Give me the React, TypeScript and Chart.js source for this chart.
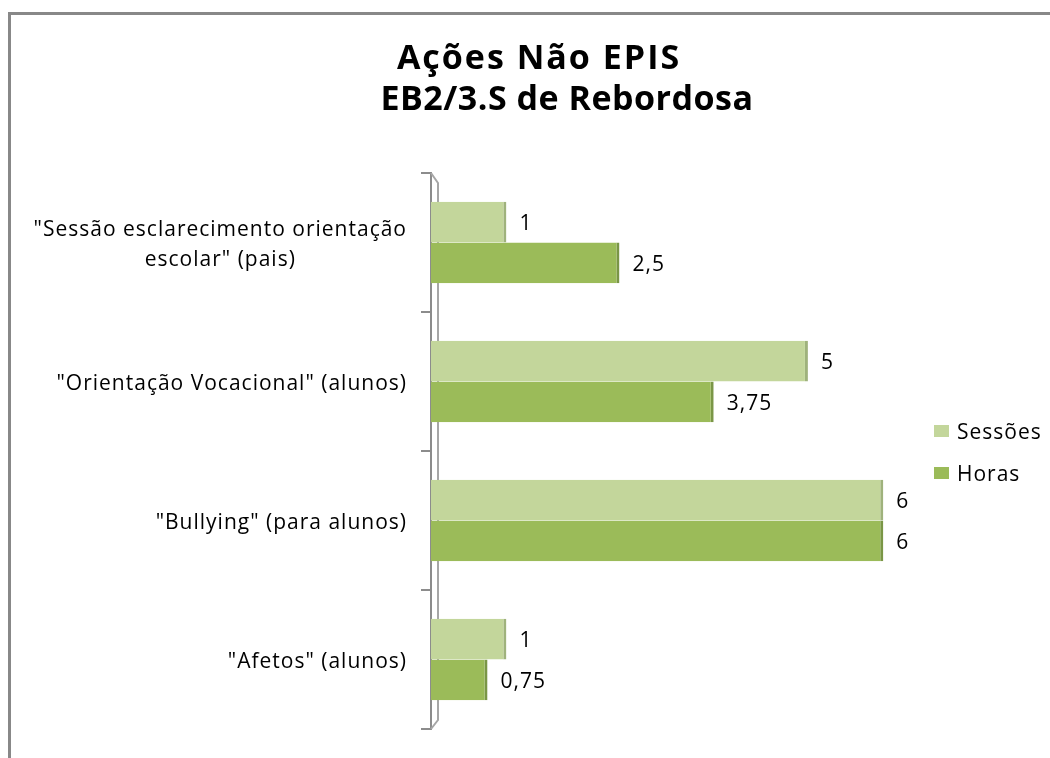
import React, { useEffect, useRef } from "react";
import { Chart, registerables } from "chart.js";

Chart.register(...registerables);

const titleLines = ["Ações Não EPIS", "EB2/3.S de Rebordosa"];
const categories: (string | string[])[] = [
  ['"Sessão esclarecimento orientação', 'escolar" (pais)'],
  '"Orientação Vocacional" (alunos)',
  '"Bullying" (para alunos)',
  '"Afetos" (alunos)',
];
const seriesNames = ["Sessões", "Horas"];
const sessoes = [1, 5, 6, 1];
const horas = [2.5, 3.75, 6, 0.75];

const FONT = "'Open Sans', 'DejaVu Sans', sans-serif";

const titlePlugin = {
  id: "customTitle",
  afterDraw(chart: any) {
    const ctx = chart.ctx;
    ctx.save();
    ctx.fillStyle = "#000";
    ctx.font = `bold 34px ${FONT}`;
    ctx.textAlign = "center";
    ctx.textBaseline = "alphabetic";
    ctx.letterSpacing = "2px";
    ctx.fillText(titleLines[0], 528, 54);
    ctx.letterSpacing = "0.5px";
    ctx.fillText(titleLines[1], 556, 95);
    ctx.restore();
  },
};

const yLabelPlugin = {
  id: "yLabels",
  afterDraw(chart: any) {
    const ctx = chart.ctx;
    const scale = chart.scales.y;
    const right = chart.chartArea.left - 24;
    ctx.save();
    ctx.fillStyle = "#000";
    ctx.font = `21px ${FONT}`;
    ctx.letterSpacing = "1px";
    ctx.textAlign = "center";
    ctx.textBaseline = "alphabetic";
    const lh = 30;
    chart.data.labels.forEach((lab: any, i: number) => {
      const lines: string[] = Array.isArray(lab) ? lab : [lab];
      const maxW = Math.max(...lines.map((l) => ctx.measureText(l).width));
      const cx = right - maxW / 2;
      const cy = scale.getPixelForTick(i) + 1;
      const firstBase = cy - ((lines.length - 1) * lh) / 2 + 7.5;
      lines.forEach((l, k) => ctx.fillText(l, cx, firstBase + k * lh));
    });
    ctx.restore();
  },
};

const axis3dPlugin = {
  id: "axis3d",
  beforeDatasetsDraw(chart: any) {
    const ctx = chart.ctx;
    const a = chart.chartArea;
    ctx.save();
    ctx.strokeStyle = "#A6A6A6";
    ctx.lineWidth = 2;
    ctx.beginPath();
    ctx.moveTo(a.left, a.top);
    ctx.lineTo(a.left + 7, a.top + 10);
    ctx.lineTo(a.left + 7, a.bottom - 9);
    ctx.lineTo(a.left, a.bottom);
    ctx.stroke();
    ctx.restore();
  },
};

const dataLabelPlugin = {
  id: "dataLabels",
  afterDatasetsDraw(chart: any) {
    const ctx = chart.ctx;
    ctx.save();
    ctx.fillStyle = "#000";
    ctx.font = `21px ${FONT}`;
    ctx.letterSpacing = "1px";
    ctx.textAlign = "left";
    ctx.textBaseline = "alphabetic";
    chart.data.datasets.forEach((ds: any, i: number) => {
      const meta = chart.getDatasetMeta(i);
      meta.data.forEach((bar: any, j: number) => {
        const v = ds.data[j];
        ctx.fillText(String(v).replace(".", ","), bar.x + 13, bar.y + 8);
      });
    });
    ctx.restore();
  },
};

const legendPlugin = {
  id: "customLegend",
  afterDraw(chart: any) {
    const ctx = chart.ctx;
    const a = chart.chartArea;
    const cy = (a.top + a.bottom) / 2;
    const x = a.right + 13;
    ctx.save();
    ctx.font = `21px ${FONT}`;
    ctx.letterSpacing = "1px";
    ctx.textBaseline = "alphabetic";
    ctx.textAlign = "left";
    chart.data.datasets.forEach((ds: any, i: number) => {
      const y = cy - 20 + i * 42;
      ctx.fillStyle = ds.backgroundColor;
      ctx.fillRect(x, y - 6, 15, 12);
      ctx.fillStyle = "#000";
      ctx.fillText(ds.label, x + 23, y + 7.5);
    });
    ctx.restore();
  },
};

export default function App() {
  const ref = useRef<HTMLCanvasElement>(null);
  useEffect(() => {
    document.body.style.overflow = "hidden";
    const chart = new Chart(ref.current as HTMLCanvasElement, {
      type: "bar",
      data: {
        labels: categories,
        datasets: [
          {
            label: seriesNames[0],
            data: sessoes,
            backgroundColor: "#C3D69B",
            borderColor: "#9FB27C",
            borderWidth: { right: 3, top: 0, bottom: 0, left: 0 },
            borderSkipped: false,
            categoryPercentage: 0.585,
            barPercentage: 1,
          },
          {
            label: seriesNames[1],
            data: horas,
            backgroundColor: "#9BBB59",
            borderColor: "#7A9646",
            borderWidth: { right: 3, top: 0, bottom: 0, left: 0 },
            borderSkipped: false,
            categoryPercentage: 0.585,
            barPercentage: 1,
          },
        ],
      },
      options: {
        indexAxis: "y",
        animation: false,
        responsive: false,
        layout: { padding: { top: 158, bottom: 29, right: 129, left: 0 } },
        plugins: {
          legend: { display: false },
          title: { display: false },
          tooltip: { enabled: false },
        },
        scales: {
          x: { display: false, min: 0, max: 6.5 },
          y: {
            afterFit: (s: any) => {
              s.width = 420;
            },
            grid: {
              drawOnChartArea: false,
              tickLength: 10,
              color: "#8C8C8C",
              lineWidth: 2,
            },
            border: { display: true, color: "#8C8C8C", width: 2 },
            ticks: { display: false },
          },
        },
      },
      plugins: [titlePlugin, yLabelPlugin, axis3dPlugin, dataLabelPlugin, legendPlugin],
    });
    return () => chart.destroy();
  }, []);

  return (
    <div
      style={{
        position: "absolute",
        left: 8,
        top: 12,
        width: 1042,
        height: 746,
        borderTop: "3px solid #888",
        borderLeft: "3px solid #888",
        boxSizing: "border-box",
        background: "#fff",
      }}
    >
      <canvas ref={ref} width={1039} height={743} style={{ display: "block" }} />
    </div>
  );
}
